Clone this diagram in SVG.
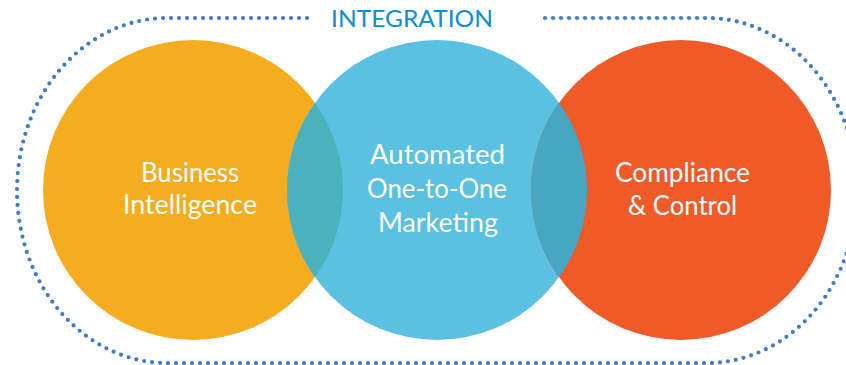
<svg xmlns="http://www.w3.org/2000/svg" width="846" height="365" viewBox="0 0 846 365">
  <style>
    .frame { fill: none; stroke: #3F7BC9; stroke-width: 4.2; stroke-linecap: round; stroke-dasharray: 0 8; }
    .label { font-family: Lato, "Open Sans", "Liberation Sans", sans-serif; font-size: 26px; fill: #ffffff; text-anchor: middle; }
    .title { font-family: Lato, "Open Sans", "Liberation Sans", sans-serif; font-size: 24px; fill: #0B8FD1; text-anchor: middle; }
  </style>
  <rect width="846" height="365" fill="#ffffff"/>

  <!-- dotted integration frame, open at the top for its title -->
  <g id="integration">
    <path class="frame" d="M545,18 L707,18 A150,172.5 0 0 1 707,363 L167,363 A150,172.5 0 0 1 167,18 L313,18"/>
    <text class="title" x="412" y="27" textLength="162" lengthAdjust="spacingAndGlyphs">INTEGRATION</text>
  </g>

  <g id="business-intelligence">
    <circle cx="193" cy="190" r="150" fill="#F6AC1F"/>
  </g>
  <g id="automated-marketing">
    <circle cx="437" cy="190" r="150" fill="#5BC1E2"/>
  </g>
  <g id="compliance-control">
    <circle cx="681" cy="190" r="150" fill="#EF5A29"/>
  </g>

  <!-- overlap lenses -->
  <g id="overlaps">
    <path d="M315,102.7 A150,150 0 0 0 315,277.3 A150,150 0 0 0 315,102.7 Z" fill="#4BB2BB"/>
    <path d="M559,102.7 A150,150 0 0 0 559,277.3 A150,150 0 0 0 559,102.7 Z" fill="#47A6C2"/>
  </g>

  <g id="labels">
    <text class="label" x="190" y="182" textLength="98" lengthAdjust="spacingAndGlyphs">Business</text>
    <text class="label" x="190" y="214" textLength="134" lengthAdjust="spacingAndGlyphs">Intelligence</text>
    <text class="label" x="437.5" y="164" textLength="135" lengthAdjust="spacingAndGlyphs">Automated</text>
    <text class="label" x="437" y="198" textLength="140" lengthAdjust="spacingAndGlyphs">One-to-One</text>
    <text class="label" x="438" y="232" textLength="120" lengthAdjust="spacingAndGlyphs">Marketing</text>
    <text class="label" x="682.5" y="182" textLength="135" lengthAdjust="spacingAndGlyphs">Compliance</text>
    <text class="label" x="682.5" y="215" textLength="109" lengthAdjust="spacingAndGlyphs">&amp; Control</text>
  </g>
</svg>
